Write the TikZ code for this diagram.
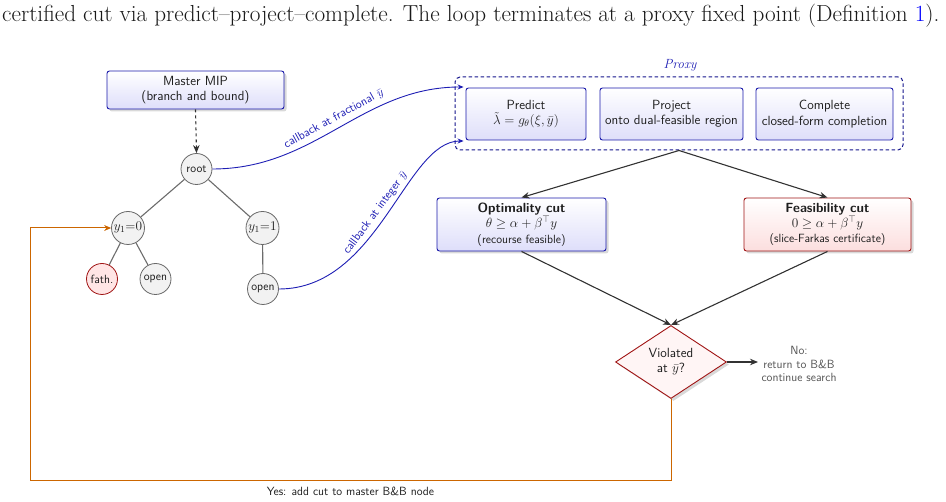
\documentclass[tikz,border=0pt]{standalone}
\usepackage{fix-cm}
\usepackage{amsmath}
\usepackage{fontspec}
\usetikzlibrary{arrows.meta,shapes.geometric,shadows}

\definecolor{bbord}{RGB}{25,25,170}
\definecolor{pbord}{RGB}{20,20,140}
\definecolor{bfill}{RGB}{222,222,250}
\definecolor{rbord}{RGB}{160,20,20}
\definecolor{rfill}{RGB}{252,222,222}
\definecolor{oline}{RGB}{204,102,0}
\definecolor{cblue}{RGB}{30,30,180}
\definecolor{tgray}{RGB}{105,105,105}
\definecolor{darr}{RGB}{50,50,50}
\definecolor{ntext}{RGB}{30,30,30}

\newcommand\nfmain{\fontsize{13.3}{15.3}\selectfont\sffamily}
\newcommand\nfsmall{\fontsize{11.9}{13.6}\selectfont\sffamily}

\tikzset{
  bluebox/.style={draw=bbord, line width=0.9pt, rounded corners=2.5pt, top color=white, bottom color=bfill, align=center, font=\nfmain, text=ntext, inner sep=0pt},
  redbox/.style={draw=rbord, line width=0.9pt, rounded corners=2.5pt, top color=white, bottom color=rfill, align=center, font=\nfmain, text=ntext, inner sep=0pt},
  shadowed/.style={drop shadow={opacity=0.3, shadow xshift=2.5pt, shadow yshift=-2.5pt}},
  tnode/.style={circle, draw=tgray, fill=gray!10, line width=0.8pt, minimum size=31pt, inner sep=0pt, font=\nfsmall, text=ntext},
  tedge/.style={draw=gray!85!black, line width=1.1pt},
  arr/.style={-{Stealth[length=8pt,width=6.5pt]}, line width=1.1pt, draw=darr},
  cbarr/.style={-{Stealth[length=6pt,width=5pt]}, line width=0.9pt, draw=cblue, shorten >=2pt},
  cblabel/.style={font=\nfsmall, text=cblue, sloped, above=1.5pt},
}

\begin{document}
\begin{tikzpicture}[x=1pt,y=-1pt]
\useasboundingbox (0,0) rectangle (946,502);

% caption line
\node[anchor=base west, inner sep=0pt, font=\fontsize{23.2}{26}\selectfont\rmfamily, text=black!90] (cap) at (2,22)
  {certified cut via predict--project--complete. The loop terminates at a proxy fixed point (Definition \textcolor{blue}{1}).};

% master
\node[bluebox, shadowed, minimum width=177pt, minimum height=38pt] (mip) at (195.5,90) {Master MIP\\(branch and bound)};

% tree
\node[tnode] (root) at (196.5,169) {root};
\node[tnode, minimum size=33pt, font=\nfmain] (y10) at (128,228) {$y_1{=}0$};
\node[tnode, minimum size=33pt, font=\nfmain] (y11) at (262.5,228) {$y_1{=}1$};
\node[tnode, fill=red!10, draw=rbord] (fath) at (102,279) {fath.};
\node[tnode] (openl) at (155.5,279) {open};
\node[tnode] (openr) at (263,289) {open};

\draw[tedge] (root) -- (y10);
\draw[tedge] (root) -- (y11);
\draw[tedge] (y10) -- (fath);
\draw[tedge] (y10) -- (openl);
\draw[tedge] (y11) -- (openr);

\draw[arr, dashed] (mip.south) -- (root.north);

% proxy
\node[draw=pbord, dash pattern=on 3.5pt off 2.5pt, rounded corners=5pt, line width=1pt, minimum width=448pt, minimum height=73pt, inner sep=0pt] (proxy) at (679,113.5) {};
\node[font=\fontsize{13.3}{15}\selectfont\rmfamily\itshape, text=cblue] (plabel) at (680,65) {Proxy};
\node[bluebox, minimum width=120pt, minimum height=52pt] (pred) at (526,114) {Predict\\$\tilde\lambda = g_\theta(\xi,\bar y)$};
\node[bluebox, minimum width=143pt, minimum height=52pt] (proj) at (671.5,114) {Project\\onto dual-feasible region};
\node[bluebox, minimum width=137pt, minimum height=52pt] (comp) at (824.5,114) {Complete\\closed-form completion};

% callbacks
\coordinate (intop) at ([yshift=27pt]pred.west);
\coordinate (inbot) at ([yshift=-27pt]pred.west);
\draw[cbarr] (root.east) to[out=0,in=180] node[cblabel, pos=0.5] {callback at fractional $\bar y$} (intop);
\draw[cbarr] (openr.east) .. controls +(100,0) and +(-60,0) .. node[cblabel, pos=0.48] {callback at integer $\bar y$} (inbot);

% cuts
\node[bluebox, shadowed, minimum width=169pt, minimum height=53pt] (opt) at (521.5,224.5)
  {\textbf{Optimality cut}\\$\theta \ge \alpha + \beta^{\top} y$\\{\nfsmall (recourse feasible)}};
\node[redbox, shadowed, minimum width=167pt, minimum height=53pt] (feas) at (827.5,224.5)
  {\textbf{Feasibility cut}\\$0 \ge \alpha + \beta^{\top} y$\\{\nfsmall (slice-Farkas certificate)}};

\draw[arr] (proxy.south) -- (opt.north);
\draw[arr] (proxy.south) -- (feas.north);

% decision
\node[diamond, draw=rbord, fill=red!4, line width=0.9pt, shadowed, minimum width=111pt, minimum height=73pt, inner sep=0pt, align=center, font=\nfmain, text=ntext] (viol) at (671,362) {Violated\\at $\bar y$?};
\draw[arr] (opt.south) -- (viol.north);
\draw[arr] (feas.south) -- (viol.north);

\node[font=\nfsmall, text=tgray!80!black, align=center] (notext) at (799,364) {No:\\return to B\&B\\continue search};
\draw[arr] (viol.east) -- (viol.east -| notext.west);

% yes loop
\coordinate (yl) at (30,481);
\draw[-{Stealth[length=7pt,width=6pt]}, draw=oline, line width=1pt]
  (viol.south) -- (viol.south |- yl) -- node[below=2pt, font=\nfsmall, text=ntext] (yestext) {Yes: add cut to master B\&B node} (yl) |- (y10.west);
\end{tikzpicture}
\end{document}
